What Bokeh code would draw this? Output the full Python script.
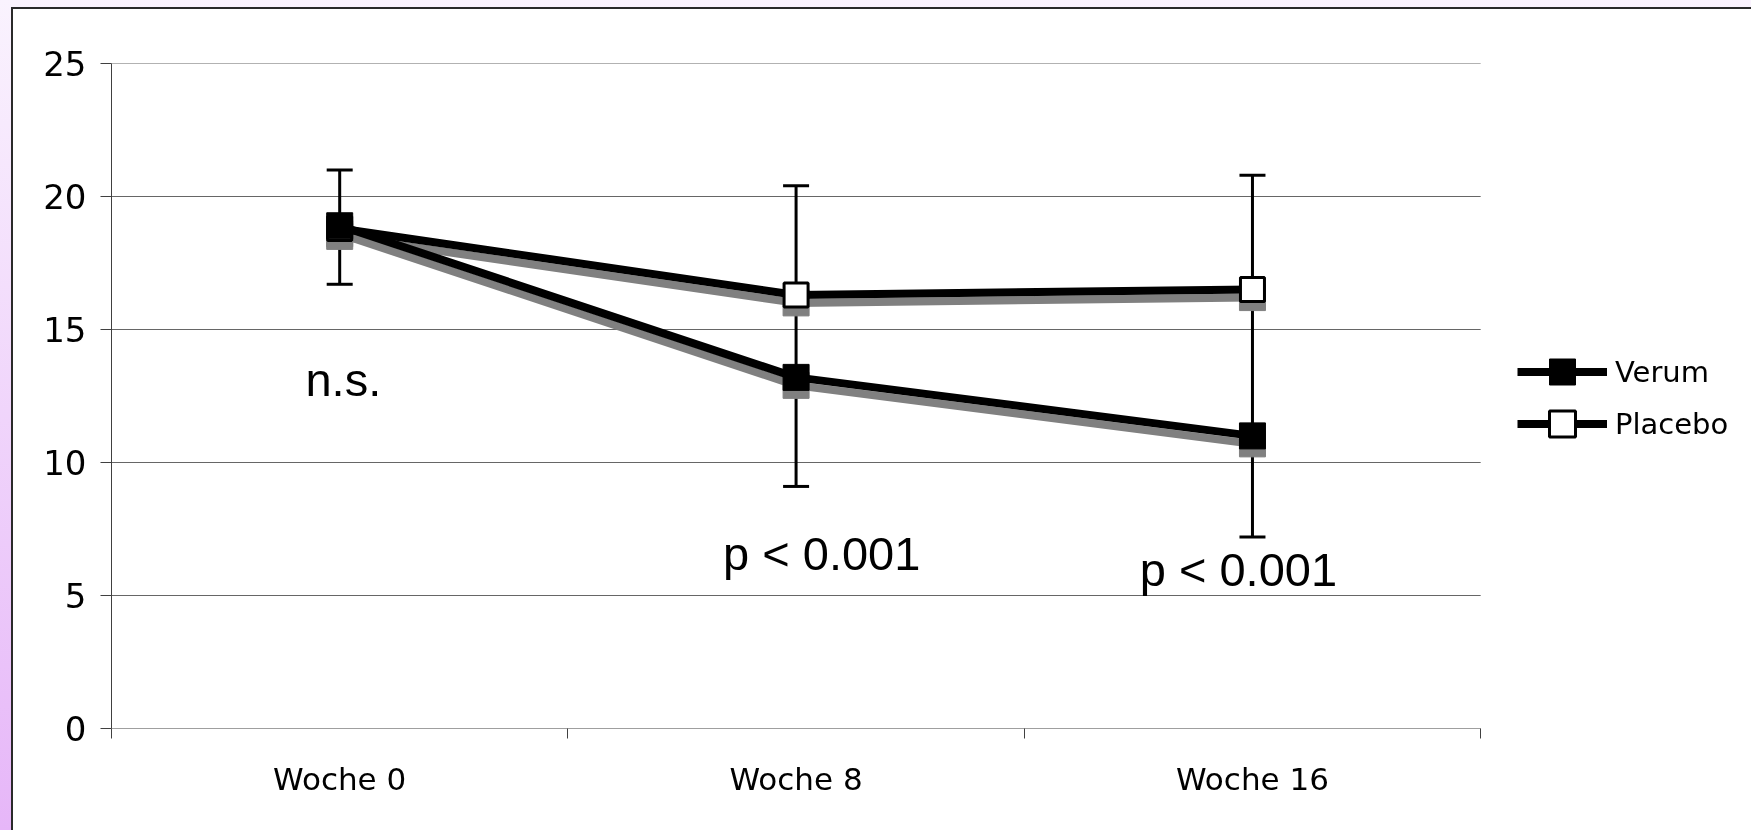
from bokeh.plotting import figure
from bokeh.models import (ColumnDataSource, Range1d, FixedTicker, Whisker, TeeHead,
                          Legend, LegendItem, Label, Div)
from bokeh.layouts import column
from bokeh.transform import dodge
from bokeh.embed import file_html
from bokeh.resources import INLINE

# ---- data ----
weeks = ["Woche 0", "Woche 8", "Woche 16"]
week_pos = [0.5, 1.5, 2.5]
band_edges = [0, 1, 2, 3]
verum = [18.9, 13.2, 11.0]
placebo = [18.8, 16.3, 16.5]
err_low = [16.7, 9.1, 7.2]
err_high = [21.0, 20.4, 20.8]
y_ticks = [0, 5, 10, 15, 20, 25]
grid_ticks = [5, 10, 15, 20, 25]
notes = ["n.s.", "p < 0.001", "p < 0.001"]
note_x = [0.425, 1.34, 2.253]
note_y = [13.13, 6.57, 5.96]

src = ColumnDataSource(dict(x=week_pos, verum=verum, placebo=placebo, lo=err_low, hi=err_high))
gsrc = ColumnDataSource(dict(y=grid_ticks, x0=[band_edges[0]] * len(grid_ticks),
                             x1=[band_edges[-1]] * len(grid_ticks)))

# frame extends right of the category area to host the legend
fig = figure(width=1743, height=822, x_range=Range1d(0, 3.554), y_range=Range1d(0, 25),
             output_backend="svg", toolbar_location=None,
             min_border_left=111, min_border_right=10, min_border_top=63, min_border_bottom=94)
fig.background_fill_alpha = 0
fig.border_fill_alpha = 0
fig.outline_line_color = None

FONT = "DejaVu Sans"
AX = "#404040"

xa = fig.xaxis[0]
xa.ticker = FixedTicker(ticks=week_pos, minor_ticks=band_edges)
xa.major_label_overrides = {p_: w for p_, w in zip(week_pos, weeks)}
xa.major_tick_out = 0
xa.major_tick_in = 0
xa.minor_tick_out = 10
xa.minor_tick_in = 0
xa.minor_tick_line_color = AX
xa.axis_line_color = None
xa.major_label_standoff = 22
xa.major_label_text_font = FONT
xa.major_label_text_font_size = "31px"
xa.major_label_text_color = "black"

ya = fig.yaxis[0]
ya.ticker = FixedTicker(ticks=y_ticks)
ya.major_tick_out = 11
ya.major_tick_in = 0
ya.minor_tick_out = 0
ya.minor_tick_in = 0
ya.major_tick_line_color = AX
ya.axis_line_color = AX
ya.major_label_standoff = 14
ya.major_label_text_font = FONT
ya.major_label_text_font_size = "34px"
ya.major_label_text_color = "black"

fig.xgrid.visible = False
fig.ygrid.visible = False

# horizontal grid lines and the x axis line, limited to the category area
fig.segment("x0", "y", "x1", "y", source=gsrc, line_color="#666666", line_width=1, level="underlay")
fig.segment(x0=band_edges[0], y0=y_ticks[0], x1=band_edges[-1], y1=y_ticks[0],
            line_color=AX, line_width=1, level="underlay")

wh = Whisker(base="x", lower="lo", upper="hi", source=src, line_color="black", line_width=3,
             level="underlay",
             upper_head=TeeHead(size=26, line_width=3, line_color="black"),
             lower_head=TeeHead(size=26, line_width=3, line_color="black"))
fig.add_layout(wh)

SH = "#808080"
dy = -0.30
for name in ["placebo", "verum"]:
    fig.line("x", dodge(name, dy), source=src, line_color=SH, line_width=8)
for name in ["placebo", "verum"]:
    fig.scatter("x", dodge(name, dy), source=src, marker="square", size=26,
                fill_color=SH, line_color=SH)

pl = fig.line("x", "placebo", source=src, line_color="black", line_width=8)
vl = fig.line("x", "verum", source=src, line_color="black", line_width=8)
pm = fig.scatter("x", "placebo", source=src, marker="square", size=24,
                 fill_color="white", line_color="black", line_width=3)
vm = fig.scatter("x", "verum", source=src, marker="square", size=26,
                 fill_color="black", line_color="black")

leg_style = dict(glyph_width=90, glyph_height=65, spacing=0, padding=0, margin=0,
                 label_standoff=8, label_text_font=FONT, label_text_font_size="29px",
                 label_text_color="black", border_line_color=None, background_fill_alpha=0)
leg1 = Legend(items=[LegendItem(label="Verum", renderers=[vl, vm])],
              location=(1406, 324), **leg_style)
leg2 = Legend(items=[LegendItem(label="Placebo", renderers=[pl, pm])],
              location=(1406, 272), **leg_style)
fig.add_layout(leg1)
fig.add_layout(leg2)

for t, x, y in zip(notes, note_x, note_y):
    fig.add_layout(Label(x=x, y=y, text=t, text_font="Liberation Sans",
                         text_font_size="47px", text_color="black",
                         text_baseline="alphabetic"))

bg = Div(text=('<div style="position:fixed;left:0;top:0;width:100vw;height:100vh;'
               'background:linear-gradient(to bottom,#faf3fe,#e6b6f8);z-index:-2;"></div>'
               '<div style="position:fixed;left:11px;top:7px;right:0;bottom:0;background:#ffffff;'
               'border-left:2px solid #2a2a2a;border-top:2px solid #2a2a2a;z-index:-1;"></div>'),
         width=0, height=0)

p = column(fig, bg, spacing=0)

open("out.html", "w").write(file_html(p, INLINE))
